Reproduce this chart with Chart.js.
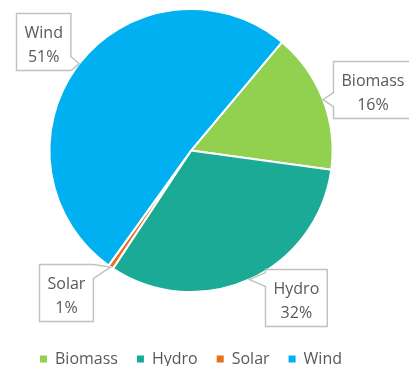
<!DOCTYPE html>
<html>
<head>
<meta charset="utf-8">
<script src="https://cdn.jsdelivr.net/npm/chart.js@4"></script>
<style>
  body { margin: 0; background: #fff; }
  #wrap { width: 409px; height: 366px; }
</style>
</head>
<body>
<div id="wrap"><canvas id="chart"></canvas></div>
<script>
const sources = ['Biomass', 'Hydro', 'Solar', 'Wind']
const shares = [16, 32, 0.6, 51]
const colors = ['#92D050', '#1BAA96', '#E8701C', '#00B0F0']

const FONT = '"Open Sans", sans-serif'
const GREY = '#595959'

// callout boxes: turn (deg) from slice middle, distance as a share of radius
const calloutPlace = [
  { turn: 2.5, dist: 1.35 },
  { turn: -11.2, dist: 1.28 },
  { turn: 6.8, dist: 1.34 },
  { turn: -1.4, dist: 1.30 }
]

function calloutPath(ctx, x0, y0, x1, y1, tx, ty) {
  const hw = 7, c = 10
  const left = tx < x0, right = tx > x1, above = ty < y0, below = ty > y1
  const pts = []
  if (above && left) {
    pts.push([x0 + c, y0], [x1, y0], [x1, y1], [x0, y1], [x0, y0 + c], [tx, ty])
  } else if (above && right) {
    pts.push([x0, y0], [x1 - c, y0], [tx, ty], [x1, y0 + c], [x1, y1], [x0, y1])
  } else if (below && right) {
    pts.push([x0, y0], [x1, y0], [x1, y1 - c], [tx, ty], [x1 - c, y1], [x0, y1])
  } else if (below && left) {
    pts.push([x0, y0], [x1, y0], [x1, y1], [x0 + c, y1], [tx, ty], [x0, y1 - c])
  } else if (left || right) {
    const m = Math.min(Math.max(ty, y0 + hw), y1 - hw)
    if (right) pts.push([x0, y0], [x1, y0], [x1, m - hw], [tx, ty], [x1, m + hw], [x1, y1], [x0, y1])
    else pts.push([x0, y0], [x1, y0], [x1, y1], [x0, y1], [x0, m + hw], [tx, ty], [x0, m - hw])
  } else {
    const m = Math.min(Math.max(tx, x0 + hw), x1 - hw)
    if (above) pts.push([x0, y0], [m - hw, y0], [tx, ty], [m + hw, y0], [x1, y0], [x1, y1], [x0, y1])
    else pts.push([x0, y0], [x1, y0], [x1, y1], [m + hw, y1], [tx, ty], [m - hw, y1], [x0, y1])
  }
  ctx.beginPath()
  pts.forEach(([x, y], i) => i ? ctx.lineTo(x, y) : ctx.moveTo(x, y))
  ctx.closePath()
}

const calloutPlugin = {
  id: 'callouts',
  afterDatasetsDraw(chart, args, opts) {
    const ctx = chart.ctx
    const meta = chart.getDatasetMeta(0)
    const total = shares.reduce((a, b) => a + b, 0)
    ctx.save()
    ctx.font = '16px ' + FONT
    meta.data.forEach((arc, i) => {
      const p = arc.getProps(['x', 'y', 'startAngle', 'endAngle', 'outerRadius'], true)
      const mid = (p.startAngle + p.endAngle) / 2
      const place = opts.place[i]
      const a = mid + place.turn * Math.PI / 180
      const cx = p.x + Math.cos(a) * p.outerRadius * place.dist
      const cy = p.y + Math.sin(a) * p.outerRadius * place.dist
      const tx = p.x + Math.cos(mid) * p.outerRadius
      const ty = p.y + Math.sin(mid) * p.outerRadius

      const lines = [sources[i], Math.round(shares[i] / total * 100) + '%']
      const w = Math.max(...lines.map(t => ctx.measureText(t).width)) + 16
      const h = 57
      const x0 = Math.round(cx - w / 2) + 0.5, y0 = Math.round(cy - h / 2) + 0.5

      calloutPath(ctx, x0, y0, x0 + w, y0 + h, tx, ty)
      ctx.fillStyle = '#fff'
      ctx.fill()
      ctx.strokeStyle = '#C0C0C0'
      ctx.lineWidth = 1.4
      ctx.stroke()

      ctx.fillStyle = GREY
      ctx.textAlign = 'center'
      ctx.textBaseline = 'alphabetic'
      ctx.fillText(lines[0], x0 + w / 2, y0 + h / 2 - 4)
      ctx.fillText(lines[1], x0 + w / 2, y0 + h / 2 + 19.5)
    })
    ctx.restore()
  }
}

new Chart(document.getElementById('chart'), {
  type: 'pie',
  data: {
    labels: sources,
    datasets: [{
      data: shares,
      backgroundColor: colors,
      borderColor: '#fff',
      borderWidth: 2,
      hoverOffset: 0
    }]
  },
  options: {
    responsive: true,
    maintainAspectRatio: false,
    animation: false,
    rotation: 40,
    layout: { padding: { top: 8, left: 0, right: 27, bottom: -11 } },
    plugins: {
      tooltip: { enabled: false },
      callouts: { place: calloutPlace },
      legend: {
        position: 'bottom',
        title: { display: true, text: '', padding: { top: 24.5, bottom: 0 } },
        labels: {
          boxWidth: 7,
          boxHeight: 7,
          padding: 19,
          color: GREY,
          font: { family: FONT, size: 16 },
          generateLabels: (chart) =>
            Chart.overrides.doughnut.plugins.legend.labels.generateLabels(chart)
              .map(l => ({ ...l, lineWidth: 0, strokeStyle: 'rgba(0,0,0,0)' }))
        }
      }
    }
  },
  plugins: [calloutPlugin]
})
</script>
</body>
</html>
